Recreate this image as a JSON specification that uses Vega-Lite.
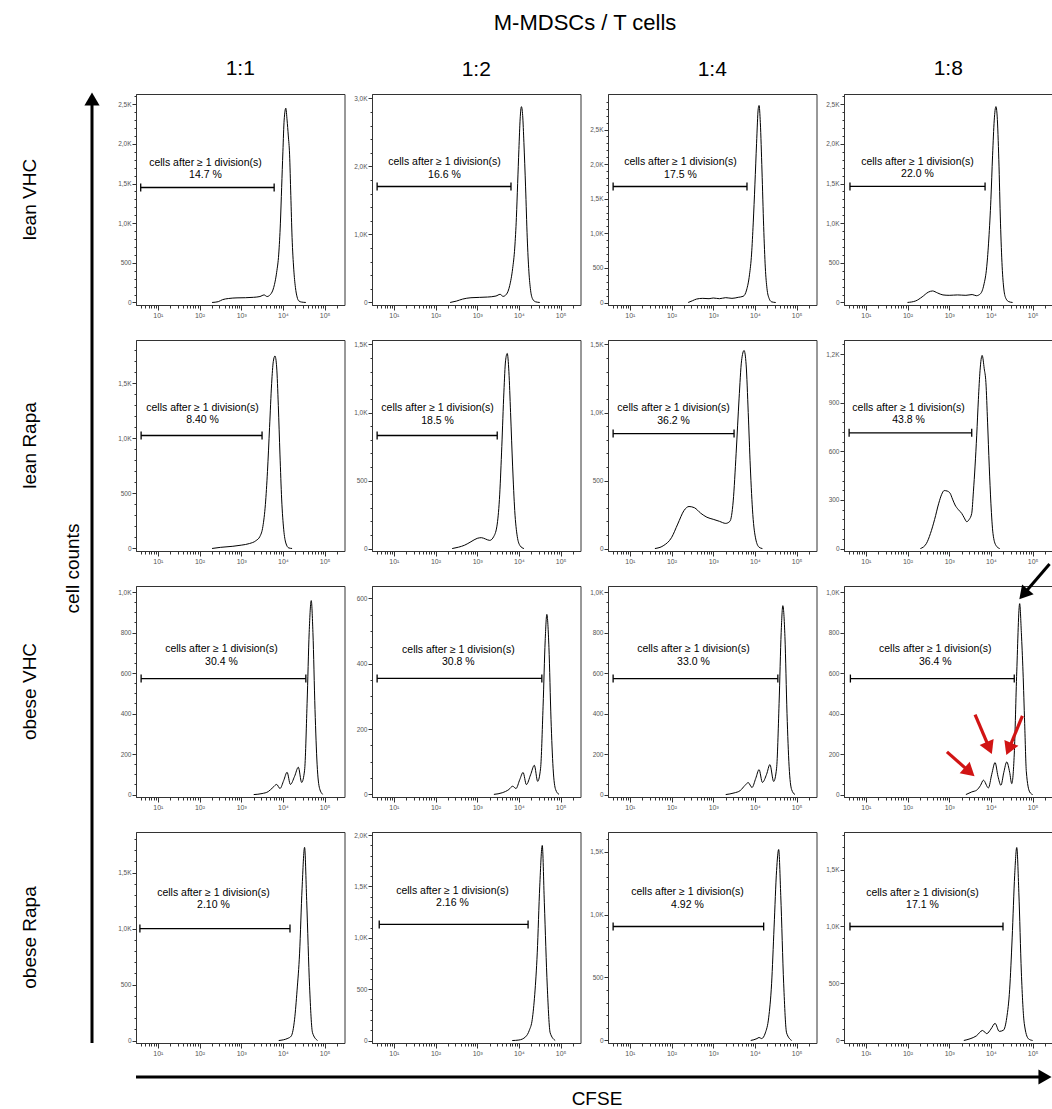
{
"$schema": "https://vega.github.io/schema/vega-lite/v6.json",
"padding": {"left": 20, "top": 11, "right": 0, "bottom": 0},
"background": "white",
"config": {
  "font": "Liberation Sans",
  "view": {"stroke": "#333", "strokeWidth": 1},
  "axis": {"grid": false, "labelFontSize": 6.5, "labelColor": "#555", "labelFont": "Liberation Sans", "tickColor": "#333", "domainColor": "#333", "domainWidth": 1, "tickWidth": 1, "labelOverlap": false, "labelFlush": false, "labelPadding": 1, "tickCount": 1000},
  "axisX": {"labelFontSize": 7},
  "title": {"fontWeight": "normal", "color": "#000", "font": "Liberation Sans"},
  "text": {"font": "Liberation Sans", "color": "#000"}
},
"datasets": {
  "rowlabels": [{"group": "lean VHC", "row": 0}, {"group": "lean Rapa", "row": 1}, {"group": "obese VHC", "row": 2}, {"group": "obese Rapa", "row": 3}],
  "arrows": [
    {"arrow": "black", "x": 255000, "y": 1139, "x2": 60800, "y2": 989},
    {"arrow": "red1", "x": 883, "y": 211, "x2": 3083, "y2": 112},
    {"arrow": "red2", "x": 4169, "y": 395, "x2": 9120, "y2": 230},
    {"arrow": "red3", "x": 57000, "y": 389, "x2": 26915, "y2": 225}
  ],
  "gates": [
    {"panel": "P11", "x1": 3.89, "x2": 6166, "y": 1450, "xm": 139, "ty": 1564, "pct": "14.7 %"},
    {"panel": "P12", "x1": 3.98, "x2": 6457, "y": 1706, "xm": 164, "ty": 1838, "pct": "16.6 %"},
    {"panel": "P13", "x1": 3.98, "x2": 6457, "y": 1676, "xm": 164, "ty": 1806, "pct": "17.5 %"},
    {"panel": "P14", "x1": 4.17, "x2": 7244, "y": 1463, "xm": 173, "ty": 1576, "pct": "22.0 %"},
    {"panel": "P21", "x1": 3.98, "x2": 3162, "y": 1027, "xm": 118, "ty": 1136, "pct": "8.40 %"},
    {"panel": "P22", "x1": 3.98, "x2": 3020, "y": 831, "xm": 112, "ty": 919, "pct": "18.5 %"},
    {"panel": "P23", "x1": 3.98, "x2": 3162, "y": 845, "xm": 112, "ty": 919, "pct": "36.2 %"},
    {"panel": "P24", "x1": 3.98, "x2": 3467, "y": 714, "xm": 106, "ty": 772, "pct": "43.8 %"},
    {"panel": "P31", "x1": 3.98, "x2": 35481, "y": 573, "xm": 335, "ty": 640, "pct": "30.4 %"},
    {"panel": "P32", "x1": 3.98, "x2": 35481, "y": 355, "xm": 353, "ty": 395, "pct": "30.8 %"},
    {"panel": "P33", "x1": 3.98, "x2": 35481, "y": 573, "xm": 335, "ty": 640, "pct": "33.0 %"},
    {"panel": "P34", "x1": 4.27, "x2": 36308, "y": 573, "xm": 464, "ty": 640, "pct": "36.4 %"},
    {"panel": "P41", "x1": 3.72, "x2": 14791, "y": 1000, "xm": 216, "ty": 1183, "pct": "2.10 %"},
    {"panel": "P42", "x1": 4.47, "x2": 16596, "y": 1130, "xm": 255, "ty": 1307, "pct": "2.16 %"},
    {"panel": "P43", "x1": 3.98, "x2": 16218, "y": 905, "xm": 241, "ty": 1052, "pct": "4.92 %"},
    {"panel": "P44", "x1": 4.17, "x2": 19498, "y": 1000, "xm": 228, "ty": 1162, "pct": "17.1 %"}
  ],
  "curves": [
    {"panel":"P11","cfse":200,"count":0},{"panel":"P11","cfse":282,"count":10},{"panel":"P11","cfse":355,"count":35},{"panel":"P11","cfse":501,"count":50},{"panel":"P11","cfse":794,"count":58},{"panel":"P11","cfse":1259,"count":60},{"panel":"P11","cfse":1995,"count":65},{"panel":"P11","cfse":2818,"count":75},{"panel":"P11","cfse":3548,"count":95},{"panel":"P11","cfse":4169,"count":75},{"panel":"P11","cfse":5012,"count":100},{"panel":"P11","cfse":6026,"count":190},{"panel":"P11","cfse":7079,"count":380},{"panel":"P11","cfse":7943,"count":610},{"panel":"P11","cfse":8710,"count":1000},{"panel":"P11","cfse":9333,"count":1450},{"panel":"P11","cfse":10000,"count":1900},{"panel":"P11","cfse":10715,"count":2300},{"panel":"P11","cfse":11749,"count":2450},{"panel":"P11","cfse":12589,"count":2300},{"panel":"P11","cfse":13490,"count":2100},{"panel":"P11","cfse":14454,"count":1870},{"panel":"P11","cfse":15488,"count":1350},{"panel":"P11","cfse":16596,"count":820},{"panel":"P11","cfse":18197,"count":420},{"panel":"P11","cfse":19953,"count":190},{"panel":"P11","cfse":21878,"count":70},{"panel":"P11","cfse":23988,"count":20},{"panel":"P11","cfse":28184,"count":5},{"panel":"P11","cfse":35481,"count":0},
    {"panel":"P12","cfse":224,"count":0},{"panel":"P12","cfse":316,"count":20},{"panel":"P12","cfse":447,"count":50},{"panel":"P12","cfse":708,"count":70},{"panel":"P12","cfse":1122,"count":75},{"panel":"P12","cfse":1778,"count":80},{"panel":"P12","cfse":2818,"count":95},{"panel":"P12","cfse":3548,"count":120},{"panel":"P12","cfse":4169,"count":90},{"panel":"P12","cfse":5012,"count":120},{"panel":"P12","cfse":6026,"count":250},{"panel":"P12","cfse":7079,"count":500},{"panel":"P12","cfse":7943,"count":800},{"panel":"P12","cfse":8710,"count":1250},{"panel":"P12","cfse":9333,"count":1750},{"panel":"P12","cfse":10000,"count":2250},{"panel":"P12","cfse":10715,"count":2700},{"panel":"P12","cfse":11482,"count":2880},{"panel":"P12","cfse":12303,"count":2750},{"panel":"P12","cfse":13183,"count":2350},{"panel":"P12","cfse":14454,"count":1700},{"panel":"P12","cfse":15849,"count":950},{"panel":"P12","cfse":17378,"count":450},{"panel":"P12","cfse":19055,"count":180},{"panel":"P12","cfse":21380,"count":50},{"panel":"P12","cfse":25119,"count":10},{"panel":"P12","cfse":31623,"count":0},
    {"panel":"P13","cfse":251,"count":0},{"panel":"P13","cfse":316,"count":25},{"panel":"P13","cfse":398,"count":50},{"panel":"P13","cfse":562,"count":60},{"panel":"P13","cfse":794,"count":55},{"panel":"P13","cfse":1000,"count":65},{"panel":"P13","cfse":1413,"count":55},{"panel":"P13","cfse":1995,"count":70},{"panel":"P13","cfse":2818,"count":60},{"panel":"P13","cfse":3981,"count":75},{"panel":"P13","cfse":5248,"count":90},{"panel":"P13","cfse":6310,"count":180},{"panel":"P13","cfse":7413,"count":400},{"panel":"P13","cfse":8318,"count":700},{"panel":"P13","cfse":9120,"count":1150},{"panel":"P13","cfse":10000,"count":1700},{"panel":"P13","cfse":10965,"count":2300},{"panel":"P13","cfse":12023,"count":2800},{"panel":"P13","cfse":12589,"count":2847},{"panel":"P13","cfse":13490,"count":2600},{"panel":"P13","cfse":14791,"count":1900},{"panel":"P13","cfse":16218,"count":1100},{"panel":"P13","cfse":17783,"count":500},{"panel":"P13","cfse":19498,"count":200},{"panel":"P13","cfse":21878,"count":60},{"panel":"P13","cfse":25119,"count":10},{"panel":"P13","cfse":31623,"count":0},
    {"panel":"P14","cfse":100,"count":0},{"panel":"P14","cfse":158,"count":20},{"panel":"P14","cfse":224,"count":70},{"panel":"P14","cfse":316,"count":130},{"panel":"P14","cfse":398,"count":145},{"panel":"P14","cfse":525,"count":120},{"panel":"P14","cfse":708,"count":95},{"panel":"P14","cfse":1000,"count":90},{"panel":"P14","cfse":1585,"count":95},{"panel":"P14","cfse":2512,"count":90},{"panel":"P14","cfse":3548,"count":100},{"panel":"P14","cfse":4467,"count":85},{"panel":"P14","cfse":5623,"count":110},{"panel":"P14","cfse":6761,"count":220},{"panel":"P14","cfse":7943,"count":450},{"panel":"P14","cfse":8913,"count":800},{"panel":"P14","cfse":10000,"count":1300},{"panel":"P14","cfse":10965,"count":1850},{"panel":"P14","cfse":12023,"count":2300},{"panel":"P14","cfse":13183,"count":2470},{"panel":"P14","cfse":14125,"count":2350},{"panel":"P14","cfse":15488,"count":1800},{"panel":"P14","cfse":16982,"count":1000},{"panel":"P14","cfse":18621,"count":450},{"panel":"P14","cfse":20417,"count":170},{"panel":"P14","cfse":22909,"count":50},{"panel":"P14","cfse":26915,"count":10},{"panel":"P14","cfse":33113,"count":0},
    {"panel":"P21","cfse":200,"count":0},{"panel":"P21","cfse":316,"count":10},{"panel":"P21","cfse":631,"count":20},{"panel":"P21","cfse":1000,"count":30},{"panel":"P21","cfse":1585,"count":45},{"panel":"P21","cfse":2239,"count":70},{"panel":"P21","cfse":2818,"count":110},{"panel":"P21","cfse":3311,"count":200},{"panel":"P21","cfse":3802,"count":400},{"panel":"P21","cfse":4266,"count":700},{"panel":"P21","cfse":4786,"count":1100},{"panel":"P21","cfse":5370,"count":1500},{"panel":"P21","cfse":5888,"count":1700},{"panel":"P21","cfse":6457,"count":1750},{"panel":"P21","cfse":7079,"count":1650},{"panel":"P21","cfse":7762,"count":1300},{"panel":"P21","cfse":8511,"count":850},{"panel":"P21","cfse":9333,"count":450},{"panel":"P21","cfse":10471,"count":170},{"panel":"P21","cfse":11749,"count":50},{"panel":"P21","cfse":13804,"count":5},{"panel":"P21","cfse":16596,"count":0},
    {"panel":"P22","cfse":251,"count":0},{"panel":"P22","cfse":355,"count":10},{"panel":"P22","cfse":501,"count":25},{"panel":"P22","cfse":708,"count":50},{"panel":"P22","cfse":1000,"count":75},{"panel":"P22","cfse":1259,"count":80},{"panel":"P22","cfse":1585,"count":70},{"panel":"P22","cfse":1995,"count":60},{"panel":"P22","cfse":2512,"count":90},{"panel":"P22","cfse":3020,"count":180},{"panel":"P22","cfse":3467,"count":400},{"panel":"P22","cfse":3890,"count":750},{"panel":"P22","cfse":4365,"count":1150},{"panel":"P22","cfse":4786,"count":1380},{"panel":"P22","cfse":5248,"count":1434},{"panel":"P22","cfse":5754,"count":1300},{"panel":"P22","cfse":6310,"count":1000},{"panel":"P22","cfse":7079,"count":600},{"panel":"P22","cfse":7943,"count":280},{"panel":"P22","cfse":9120,"count":90},{"panel":"P22","cfse":10715,"count":20},{"panel":"P22","cfse":13183,"count":0},
    {"panel":"P23","cfse":40,"count":0},{"panel":"P23","cfse":63,"count":20},{"panel":"P23","cfse":100,"count":80},{"panel":"P23","cfse":141,"count":180},{"panel":"P23","cfse":200,"count":280},{"panel":"P23","cfse":263,"count":309},{"panel":"P23","cfse":355,"count":300},{"panel":"P23","cfse":501,"count":260},{"panel":"P23","cfse":708,"count":230},{"panel":"P23","cfse":1000,"count":215},{"panel":"P23","cfse":1413,"count":200},{"panel":"P23","cfse":1995,"count":185},{"panel":"P23","cfse":2512,"count":200},{"panel":"P23","cfse":3020,"count":350},{"panel":"P23","cfse":3548,"count":700},{"panel":"P23","cfse":4169,"count":1100},{"panel":"P23","cfse":4786,"count":1380},{"panel":"P23","cfse":5495,"count":1456},{"panel":"P23","cfse":6166,"count":1350},{"panel":"P23","cfse":6918,"count":1000},{"panel":"P23","cfse":7762,"count":600},{"panel":"P23","cfse":8913,"count":250},{"panel":"P23","cfse":10471,"count":70},{"panel":"P23","cfse":12589,"count":10},{"panel":"P23","cfse":15136,"count":0},
    {"panel":"P24","cfse":204,"count":0},{"panel":"P24","cfse":282,"count":30},{"panel":"P24","cfse":355,"count":93},{"panel":"P24","cfse":447,"count":180},{"panel":"P24","cfse":562,"count":280},{"panel":"P24","cfse":661,"count":335},{"panel":"P24","cfse":759,"count":358},{"panel":"P24","cfse":891,"count":355},{"panel":"P24","cfse":1047,"count":342},{"panel":"P24","cfse":1202,"count":305},{"panel":"P24","cfse":1380,"count":269},{"panel":"P24","cfse":1660,"count":240},{"panel":"P24","cfse":1995,"count":217},{"panel":"P24","cfse":2291,"count":190},{"panel":"P24","cfse":2630,"count":166},{"panel":"P24","cfse":3020,"count":180},{"panel":"P24","cfse":3467,"count":217},{"panel":"P24","cfse":3802,"count":350},{"panel":"P24","cfse":4169,"count":509},{"panel":"P24","cfse":4571,"count":700},{"panel":"P24","cfse":5012,"count":921},{"panel":"P24","cfse":5495,"count":1100},{"panel":"P24","cfse":6166,"count":1192},{"panel":"P24","cfse":6918,"count":1110},{"panel":"P24","cfse":7586,"count":1025},{"panel":"P24","cfse":8318,"count":780},{"panel":"P24","cfse":9120,"count":509},{"panel":"P24","cfse":10000,"count":280},{"panel":"P24","cfse":11220,"count":93},{"panel":"P24","cfse":13183,"count":20},{"panel":"P24","cfse":16218,"count":0},
    {"panel":"P31","cfse":1995,"count":0},{"panel":"P31","cfse":3162,"count":5},{"panel":"P31","cfse":4467,"count":15},{"panel":"P31","cfse":5754,"count":35},{"panel":"P31","cfse":7079,"count":50},{"panel":"P31","cfse":8511,"count":30},{"panel":"P31","cfse":10471,"count":70},{"panel":"P31","cfse":12589,"count":110},{"panel":"P31","cfse":15136,"count":50},{"panel":"P31","cfse":19055,"count":90},{"panel":"P31","cfse":23442,"count":135},{"panel":"P31","cfse":28184,"count":60},{"panel":"P31","cfse":33113,"count":120},{"panel":"P31","cfse":38019,"count":450},{"panel":"P31","cfse":42658,"count":800},{"panel":"P31","cfse":47863,"count":958},{"panel":"P31","cfse":52481,"count":800},{"panel":"P31","cfse":58884,"count":420},{"panel":"P31","cfse":66069,"count":150},{"panel":"P31","cfse":75858,"count":30},{"panel":"P31","cfse":91201,"count":0},
    {"panel":"P32","cfse":2512,"count":0},{"panel":"P32","cfse":3981,"count":5},{"panel":"P32","cfse":5754,"count":15},{"panel":"P32","cfse":7079,"count":25},{"panel":"P32","cfse":8511,"count":18},{"panel":"P32","cfse":10471,"count":45},{"panel":"P32","cfse":12589,"count":67},{"panel":"P32","cfse":15136,"count":30},{"panel":"P32","cfse":19055,"count":60},{"panel":"P32","cfse":23442,"count":89},{"panel":"P32","cfse":28184,"count":40},{"panel":"P32","cfse":33113,"count":80},{"panel":"P32","cfse":38019,"count":270},{"panel":"P32","cfse":42658,"count":470},{"panel":"P32","cfse":46774,"count":551},{"panel":"P32","cfse":52481,"count":450},{"panel":"P32","cfse":58884,"count":230},{"panel":"P32","cfse":66069,"count":80},{"panel":"P32","cfse":75858,"count":15},{"panel":"P32","cfse":91201,"count":0},
    {"panel":"P33","cfse":1995,"count":0},{"panel":"P33","cfse":3162,"count":8},{"panel":"P33","cfse":4467,"count":20},{"panel":"P33","cfse":5754,"count":45},{"panel":"P33","cfse":6918,"count":59},{"panel":"P33","cfse":8511,"count":35},{"panel":"P33","cfse":10471,"count":80},{"panel":"P33","cfse":12589,"count":123},{"panel":"P33","cfse":15136,"count":60},{"panel":"P33","cfse":19055,"count":100},{"panel":"P33","cfse":22909,"count":148},{"panel":"P33","cfse":28184,"count":65},{"panel":"P33","cfse":33113,"count":130},{"panel":"P33","cfse":38019,"count":450},{"panel":"P33","cfse":42658,"count":800},{"panel":"P33","cfse":46774,"count":933},{"panel":"P33","cfse":52481,"count":780},{"panel":"P33","cfse":58884,"count":400},{"panel":"P33","cfse":66069,"count":140},{"panel":"P33","cfse":75858,"count":25},{"panel":"P33","cfse":91201,"count":0},
    {"panel":"P34","cfse":2512,"count":0},{"panel":"P34","cfse":3467,"count":13},{"panel":"P34","cfse":4571,"count":22},{"panel":"P34","cfse":5623,"count":45},{"panel":"P34","cfse":6607,"count":71},{"panel":"P34","cfse":8710,"count":33},{"panel":"P34","cfse":10471,"count":100},{"panel":"P34","cfse":12589,"count":158},{"panel":"P34","cfse":14791,"count":90},{"panel":"P34","cfse":17378,"count":46},{"panel":"P34","cfse":20417,"count":110},{"panel":"P34","cfse":23988,"count":161},{"panel":"P34","cfse":28184,"count":110},{"panel":"P34","cfse":31623,"count":54},{"panel":"P34","cfse":36308,"count":200},{"panel":"P34","cfse":41687,"count":606},{"panel":"P34","cfse":48978,"count":943},{"panel":"P34","cfse":53703,"count":800},{"panel":"P34","cfse":58884,"count":606},{"panel":"P34","cfse":64565,"count":350},{"panel":"P34","cfse":70795,"count":112},{"panel":"P34","cfse":85114,"count":13},{"panel":"P34","cfse":100000,"count":0},
    {"panel":"P41","cfse":7943,"count":0},{"panel":"P41","cfse":13183,"count":20},{"panel":"P41","cfse":15849,"count":40},{"panel":"P41","cfse":19055,"count":190},{"panel":"P41","cfse":21878,"count":450},{"panel":"P41","cfse":25119,"count":780},{"panel":"P41","cfse":28840,"count":1360},{"panel":"P41","cfse":33113,"count":1725},{"panel":"P41","cfse":37154,"count":1250},{"panel":"P41","cfse":43652,"count":480},{"panel":"P41","cfse":51286,"count":70},{"panel":"P41","cfse":67608,"count":0},
    {"panel":"P42","cfse":6918,"count":0},{"panel":"P42","cfse":10000,"count":5},{"panel":"P42","cfse":14454,"count":36},{"panel":"P42","cfse":17783,"count":100},{"panel":"P42","cfse":20893,"count":205},{"panel":"P42","cfse":23988,"count":450},{"panel":"P42","cfse":27542,"count":854},{"panel":"P42","cfse":31623,"count":1503},{"panel":"P42","cfse":36308,"count":1899},{"panel":"P42","cfse":40738,"count":1341},{"panel":"P42","cfse":47863,"count":530},{"panel":"P42","cfse":56234,"count":75},{"panel":"P42","cfse":74131,"count":0},
    {"panel":"P43","cfse":7943,"count":0},{"panel":"P43","cfse":11220,"count":15},{"panel":"P43","cfse":12589,"count":24},{"panel":"P43","cfse":14454,"count":15},{"panel":"P43","cfse":17783,"count":60},{"panel":"P43","cfse":21380,"count":180},{"panel":"P43","cfse":25119,"count":450},{"panel":"P43","cfse":28840,"count":900},{"panel":"P43","cfse":33113,"count":1350},{"panel":"P43","cfse":37154,"count":1516},{"panel":"P43","cfse":41687,"count":1150},{"panel":"P43","cfse":48978,"count":450},{"panel":"P43","cfse":57544,"count":60},{"panel":"P43","cfse":75858,"count":0},
    {"panel":"P44","cfse":2239,"count":0},{"panel":"P44","cfse":3162,"count":15},{"panel":"P44","cfse":4467,"count":40},{"panel":"P44","cfse":6310,"count":88},{"panel":"P44","cfse":7943,"count":60},{"panel":"P44","cfse":10000,"count":100},{"panel":"P44","cfse":12589,"count":150},{"panel":"P44","cfse":15849,"count":80},{"panel":"P44","cfse":19953,"count":90},{"panel":"P44","cfse":23988,"count":200},{"panel":"P44","cfse":28184,"count":450},{"panel":"P44","cfse":32359,"count":900},{"panel":"P44","cfse":37154,"count":1450},{"panel":"P44","cfse":41687,"count":1693},{"panel":"P44","cfse":46774,"count":1300},{"panel":"P44","cfse":53703,"count":600},{"panel":"P44","cfse":63096,"count":150},{"panel":"P44","cfse":79433,"count":15},{"panel":"P44","cfse":100000,"count":0}
  ]
},
"spacing": 0,
"vconcat": [
{
  "spacing": 17,
  "hconcat": [
    {
      "width": 80, "height": 949,
      "view": {"stroke": null},
      "layer": [
        {"data": {"name": "rowlabels"}, "mark": {"type": "text", "angle": 270, "fontSize": 19, "align": "center", "baseline": "middle"},
         "encoding": {"x": {"datum": 0.125, "type": "quantitative", "scale": {"domain": [0, 1], "nice": false, "zero": false}, "axis": null},
                      "y": {"field": "row", "type": "quantitative", "scale": {"domain": [-0.4289, 3.4289], "reverse": true, "nice": false, "zero": false}, "axis": null},
                      "text": {"field": "group"}}},
        {"data": {"values": [{"label": "cell counts"}]}, "mark": {"type": "text", "angle": 270, "fontSize": 19, "align": "center", "baseline": "middle"},
         "encoding": {"x": {"datum": 0.6625, "type": "quantitative"}, "y": {"datum": 1.5, "type": "quantitative"}, "text": {"field": "label"}}},
        {"data": {"values": [{"label": "cell counts"}]}, "mark": {"type": "rule", "strokeWidth": 3, "color": "#000"},
         "encoding": {"x": {"datum": 0.9, "type": "quantitative"}, "y": {"datum": 3.4289, "type": "quantitative"}, "y2": {"datum": -0.4085}}},
        {"data": {"values": [{"label": "cell counts"}]}, "mark": {"type": "point", "shape": "triangle-up", "filled": true, "size": 230, "color": "#000", "opacity": 1},
         "encoding": {"x": {"datum": 0.9, "type": "quantitative"}, "y": {"datum": -0.4085, "type": "quantitative"}}}
      ]
    },
    {
      "title": {"text": "M-MDSCs / T cells", "fontSize": 22, "offset": 23, "anchor": "middle"},
      "columns": 4,
      "spacing": {"row": 35, "column": 27},
      "bounds": "flush",
      "concat": [
        {"width": 208.5, "height": 211, "title": {"text": "1:1", "fontSize": 21, "offset": 14},
         "layer": [
          {"data": {"name": "curves"}, "transform": [{"filter": "datum.panel === 'P11'"}], "mark": {"type": "line", "color": "#000", "strokeWidth": 1, "interpolate": "monotone"},
           "encoding": {"x": {"field": "cfse", "type": "quantitative", "scale": {"type": "log", "domain": [3, 300000], "nice": false}, "axis": {"title": null, "tickCount": 1000, "values": [4,5,6,7,8,9,10,20,30,40,50,60,70,80,90,100,200,300,400,500,600,700,800,900,1000,2000,3000,4000,5000,6000,7000,8000,9000,10000,20000,30000,40000,50000,60000,70000,80000,90000,100000,200000], "labelExpr": "indexof([10,100,1000,10000,100000], datum.value) >= 0 ? '10' + ['','¹','²','³','⁴','⁵'][round(log(datum.value) / LN10)] : ''", "tickSize": {"condition": {"test": "indexof([10,100,1000,10000,100000], datum.value) >= 0", "value": 5}, "value": 3}}},
                        "y": {"field": "count", "type": "quantitative", "scale": {"domain": [-32, 2629], "nice": false, "zero": false}, "axis": {"title": null, "tickCount": 1000, "values": [0,100,200,300,400,500,600,700,800,900,1000,1100,1200,1300,1400,1500,1600,1700,1800,1900,2000,2100,2200,2300,2400,2500,2600], "labelExpr": "datum.value % 500 === 0 ? (datum.value >= 1000 ? replace(format(datum.value / 1000, '.1f'), '.', ',') + 'K' : format(datum.value, 'd')) : ''", "tickSize": {"condition": {"test": "datum.value % 500 === 0", "value": 4}, "value": 2}}}}},
          {"data": {"name": "gates"}, "transform": [{"filter": "datum.panel === 'P11'"}], "mark": {"type": "rule", "color": "#000", "strokeWidth": 1.3}, "encoding": {"x": {"field": "x1", "type": "quantitative"}, "x2": {"field": "x2"}, "y": {"field": "y", "type": "quantitative"}}},
          {"data": {"name": "gates"}, "transform": [{"filter": "datum.panel === 'P11'"}], "mark": {"type": "tick", "orient": "vertical", "size": 8, "thickness": 1.3, "color": "#000", "opacity": 1}, "encoding": {"x": {"field": "x1", "type": "quantitative"}, "y": {"field": "y", "type": "quantitative"}}},
          {"data": {"name": "gates"}, "transform": [{"filter": "datum.panel === 'P11'"}], "mark": {"type": "tick", "orient": "vertical", "size": 8, "thickness": 1.3, "color": "#000", "opacity": 1}, "encoding": {"x": {"field": "x2", "type": "quantitative"}, "y": {"field": "y", "type": "quantitative"}}},
          {"data": {"name": "gates"}, "transform": [{"filter": "datum.panel === 'P11'"}], "mark": {"type": "text", "fontSize": 10.5, "baseline": "alphabetic", "align": "center"}, "encoding": {"x": {"field": "xm", "type": "quantitative"}, "y": {"field": "ty", "type": "quantitative"}, "text": {"field": "pct"}}},
          {"data": {"name": "gates"}, "transform": [{"filter": "datum.panel === 'P11'"}], "mark": {"type": "text", "fontSize": 10.5, "baseline": "alphabetic", "align": "center", "dy": -12.5, "text": "cells after ≥ 1 division(s)"}, "encoding": {"x": {"field": "xm", "type": "quantitative"}, "y": {"field": "ty", "type": "quantitative"}}}
         ]},
        {"width": 208.5, "height": 211, "title": {"text": "1:2", "fontSize": 21, "offset": 14},
         "layer": [
          {"data": {"name": "curves"}, "transform": [{"filter": "datum.panel === 'P12'"}], "mark": {"type": "line", "color": "#000", "strokeWidth": 1, "interpolate": "monotone"},
           "encoding": {"x": {"field": "cfse", "type": "quantitative", "scale": {"type": "log", "domain": [3, 300000], "nice": false}, "axis": {"title": null, "tickCount": 1000, "values": [4,5,6,7,8,9,10,20,30,40,50,60,70,80,90,100,200,300,400,500,600,700,800,900,1000,2000,3000,4000,5000,6000,7000,8000,9000,10000,20000,30000,40000,50000,60000,70000,80000,90000,100000,200000], "labelExpr": "indexof([10,100,1000,10000,100000], datum.value) >= 0 ? '10' + ['','¹','²','³','⁴','⁵'][round(log(datum.value) / LN10)] : ''", "tickSize": {"condition": {"test": "indexof([10,100,1000,10000,100000], datum.value) >= 0", "value": 5}, "value": 3}}},
                        "y": {"field": "count", "type": "quantitative", "scale": {"domain": [-37, 3066], "nice": false, "zero": false}, "axis": {"title": null, "tickCount": 1000, "values": [0,200,400,600,800,1000,1200,1400,1600,1800,2000,2200,2400,2600,2800,3000], "labelExpr": "datum.value % 1000 === 0 ? (datum.value >= 1000 ? replace(format(datum.value / 1000, '.1f'), '.', ',') + 'K' : format(datum.value, 'd')) : ''", "tickSize": {"condition": {"test": "datum.value % 1000 === 0", "value": 4}, "value": 2}}}}},
          {"data": {"name": "gates"}, "transform": [{"filter": "datum.panel === 'P12'"}], "mark": {"type": "rule", "color": "#000", "strokeWidth": 1.3}, "encoding": {"x": {"field": "x1", "type": "quantitative"}, "x2": {"field": "x2"}, "y": {"field": "y", "type": "quantitative"}}},
          {"data": {"name": "gates"}, "transform": [{"filter": "datum.panel === 'P12'"}], "mark": {"type": "tick", "orient": "vertical", "size": 8, "thickness": 1.3, "color": "#000", "opacity": 1}, "encoding": {"x": {"field": "x1", "type": "quantitative"}, "y": {"field": "y", "type": "quantitative"}}},
          {"data": {"name": "gates"}, "transform": [{"filter": "datum.panel === 'P12'"}], "mark": {"type": "tick", "orient": "vertical", "size": 8, "thickness": 1.3, "color": "#000", "opacity": 1}, "encoding": {"x": {"field": "x2", "type": "quantitative"}, "y": {"field": "y", "type": "quantitative"}}},
          {"data": {"name": "gates"}, "transform": [{"filter": "datum.panel === 'P12'"}], "mark": {"type": "text", "fontSize": 10.5, "baseline": "alphabetic", "align": "center"}, "encoding": {"x": {"field": "xm", "type": "quantitative"}, "y": {"field": "ty", "type": "quantitative"}, "text": {"field": "pct"}}},
          {"data": {"name": "gates"}, "transform": [{"filter": "datum.panel === 'P12'"}], "mark": {"type": "text", "fontSize": 10.5, "baseline": "alphabetic", "align": "center", "dy": -12.5, "text": "cells after ≥ 1 division(s)"}, "encoding": {"x": {"field": "xm", "type": "quantitative"}, "y": {"field": "ty", "type": "quantitative"}}}
         ]},
        {"width": 208.5, "height": 211, "title": {"text": "1:4", "fontSize": 21, "offset": 14},
         "layer": [
          {"data": {"name": "curves"}, "transform": [{"filter": "datum.panel === 'P13'"}], "mark": {"type": "line", "color": "#000", "strokeWidth": 1, "interpolate": "monotone"},
           "encoding": {"x": {"field": "cfse", "type": "quantitative", "scale": {"type": "log", "domain": [3, 300000], "nice": false}, "axis": {"title": null, "tickCount": 1000, "values": [4,5,6,7,8,9,10,20,30,40,50,60,70,80,90,100,200,300,400,500,600,700,800,900,1000,2000,3000,4000,5000,6000,7000,8000,9000,10000,20000,30000,40000,50000,60000,70000,80000,90000,100000,200000], "labelExpr": "indexof([10,100,1000,10000,100000], datum.value) >= 0 ? '10' + ['','¹','²','³','⁴','⁵'][round(log(datum.value) / LN10)] : ''", "tickSize": {"condition": {"test": "indexof([10,100,1000,10000,100000], datum.value) >= 0", "value": 5}, "value": 3}}},
                        "y": {"field": "count", "type": "quantitative", "scale": {"domain": [-36, 3013], "nice": false, "zero": false}, "axis": {"title": null, "tickCount": 1000, "values": [0,100,200,300,400,500,600,700,800,900,1000,1100,1200,1300,1400,1500,1600,1700,1800,1900,2000,2100,2200,2300,2400,2500,2600,2700,2800,2900], "labelExpr": "datum.value % 500 === 0 ? (datum.value >= 1000 ? replace(format(datum.value / 1000, '.1f'), '.', ',') + 'K' : format(datum.value, 'd')) : ''", "tickSize": {"condition": {"test": "datum.value % 500 === 0", "value": 4}, "value": 2}}}}},
          {"data": {"name": "gates"}, "transform": [{"filter": "datum.panel === 'P13'"}], "mark": {"type": "rule", "color": "#000", "strokeWidth": 1.3}, "encoding": {"x": {"field": "x1", "type": "quantitative"}, "x2": {"field": "x2"}, "y": {"field": "y", "type": "quantitative"}}},
          {"data": {"name": "gates"}, "transform": [{"filter": "datum.panel === 'P13'"}], "mark": {"type": "tick", "orient": "vertical", "size": 8, "thickness": 1.3, "color": "#000", "opacity": 1}, "encoding": {"x": {"field": "x1", "type": "quantitative"}, "y": {"field": "y", "type": "quantitative"}}},
          {"data": {"name": "gates"}, "transform": [{"filter": "datum.panel === 'P13'"}], "mark": {"type": "tick", "orient": "vertical", "size": 8, "thickness": 1.3, "color": "#000", "opacity": 1}, "encoding": {"x": {"field": "x2", "type": "quantitative"}, "y": {"field": "y", "type": "quantitative"}}},
          {"data": {"name": "gates"}, "transform": [{"filter": "datum.panel === 'P13'"}], "mark": {"type": "text", "fontSize": 10.5, "baseline": "alphabetic", "align": "center"}, "encoding": {"x": {"field": "xm", "type": "quantitative"}, "y": {"field": "ty", "type": "quantitative"}, "text": {"field": "pct"}}},
          {"data": {"name": "gates"}, "transform": [{"filter": "datum.panel === 'P13'"}], "mark": {"type": "text", "fontSize": 10.5, "baseline": "alphabetic", "align": "center", "dy": -12.5, "text": "cells after ≥ 1 division(s)"}, "encoding": {"x": {"field": "xm", "type": "quantitative"}, "y": {"field": "ty", "type": "quantitative"}}}
         ]},
        {"width": 208.5, "height": 211, "title": {"text": "1:8", "fontSize": 21, "offset": 14},
         "layer": [
          {"data": {"name": "curves"}, "transform": [{"filter": "datum.panel === 'P14'"}], "mark": {"type": "line", "color": "#000", "strokeWidth": 1, "interpolate": "monotone"},
           "encoding": {"x": {"field": "cfse", "type": "quantitative", "scale": {"type": "log", "domain": [3, 300000], "nice": false}, "axis": {"title": null, "tickCount": 1000, "values": [4,5,6,7,8,9,10,20,30,40,50,60,70,80,90,100,200,300,400,500,600,700,800,900,1000,2000,3000,4000,5000,6000,7000,8000,9000,10000,20000,30000,40000,50000,60000,70000,80000,90000,100000,200000], "labelExpr": "indexof([10,100,1000,10000,100000], datum.value) >= 0 ? '10' + ['','¹','²','³','⁴','⁵'][round(log(datum.value) / LN10)] : ''", "tickSize": {"condition": {"test": "indexof([10,100,1000,10000,100000], datum.value) >= 0", "value": 5}, "value": 3}}},
                        "y": {"field": "count", "type": "quantitative", "scale": {"domain": [-32, 2629], "nice": false, "zero": false}, "axis": {"title": null, "tickCount": 1000, "values": [0,100,200,300,400,500,600,700,800,900,1000,1100,1200,1300,1400,1500,1600,1700,1800,1900,2000,2100,2200,2300,2400,2500,2600], "labelExpr": "datum.value % 500 === 0 ? (datum.value >= 1000 ? replace(format(datum.value / 1000, '.1f'), '.', ',') + 'K' : format(datum.value, 'd')) : ''", "tickSize": {"condition": {"test": "datum.value % 500 === 0", "value": 4}, "value": 2}}}}},
          {"data": {"name": "gates"}, "transform": [{"filter": "datum.panel === 'P14'"}], "mark": {"type": "rule", "color": "#000", "strokeWidth": 1.3}, "encoding": {"x": {"field": "x1", "type": "quantitative"}, "x2": {"field": "x2"}, "y": {"field": "y", "type": "quantitative"}}},
          {"data": {"name": "gates"}, "transform": [{"filter": "datum.panel === 'P14'"}], "mark": {"type": "tick", "orient": "vertical", "size": 8, "thickness": 1.3, "color": "#000", "opacity": 1}, "encoding": {"x": {"field": "x1", "type": "quantitative"}, "y": {"field": "y", "type": "quantitative"}}},
          {"data": {"name": "gates"}, "transform": [{"filter": "datum.panel === 'P14'"}], "mark": {"type": "tick", "orient": "vertical", "size": 8, "thickness": 1.3, "color": "#000", "opacity": 1}, "encoding": {"x": {"field": "x2", "type": "quantitative"}, "y": {"field": "y", "type": "quantitative"}}},
          {"data": {"name": "gates"}, "transform": [{"filter": "datum.panel === 'P14'"}], "mark": {"type": "text", "fontSize": 10.5, "baseline": "alphabetic", "align": "center"}, "encoding": {"x": {"field": "xm", "type": "quantitative"}, "y": {"field": "ty", "type": "quantitative"}, "text": {"field": "pct"}}},
          {"data": {"name": "gates"}, "transform": [{"filter": "datum.panel === 'P14'"}], "mark": {"type": "text", "fontSize": 10.5, "baseline": "alphabetic", "align": "center", "dy": -12.5, "text": "cells after ≥ 1 division(s)"}, "encoding": {"x": {"field": "xm", "type": "quantitative"}, "y": {"field": "ty", "type": "quantitative"}}}
         ]},
        {"width": 208.5, "height": 211,
         "layer": [
          {"data": {"name": "curves"}, "transform": [{"filter": "datum.panel === 'P21'"}], "mark": {"type": "line", "color": "#000", "strokeWidth": 1, "interpolate": "monotone"},
           "encoding": {"x": {"field": "cfse", "type": "quantitative", "scale": {"type": "log", "domain": [3, 300000], "nice": false}, "axis": {"title": null, "tickCount": 1000, "values": [4,5,6,7,8,9,10,20,30,40,50,60,70,80,90,100,200,300,400,500,600,700,800,900,1000,2000,3000,4000,5000,6000,7000,8000,9000,10000,20000,30000,40000,50000,60000,70000,80000,90000,100000,200000], "labelExpr": "indexof([10,100,1000,10000,100000], datum.value) >= 0 ? '10' + ['','¹','²','³','⁴','⁵'][round(log(datum.value) / LN10)] : ''", "tickSize": {"condition": {"test": "indexof([10,100,1000,10000,100000], datum.value) >= 0", "value": 5}, "value": 3}}},
                        "y": {"field": "count", "type": "quantitative", "scale": {"domain": [-23, 1895], "nice": false, "zero": false}, "axis": {"title": null, "tickCount": 1000, "values": [0,100,200,300,400,500,600,700,800,900,1000,1100,1200,1300,1400,1500,1600,1700,1800], "labelExpr": "datum.value % 500 === 0 ? (datum.value >= 1000 ? replace(format(datum.value / 1000, '.1f'), '.', ',') + 'K' : format(datum.value, 'd')) : ''", "tickSize": {"condition": {"test": "datum.value % 500 === 0", "value": 4}, "value": 2}}}}},
          {"data": {"name": "gates"}, "transform": [{"filter": "datum.panel === 'P21'"}], "mark": {"type": "rule", "color": "#000", "strokeWidth": 1.3}, "encoding": {"x": {"field": "x1", "type": "quantitative"}, "x2": {"field": "x2"}, "y": {"field": "y", "type": "quantitative"}}},
          {"data": {"name": "gates"}, "transform": [{"filter": "datum.panel === 'P21'"}], "mark": {"type": "tick", "orient": "vertical", "size": 8, "thickness": 1.3, "color": "#000", "opacity": 1}, "encoding": {"x": {"field": "x1", "type": "quantitative"}, "y": {"field": "y", "type": "quantitative"}}},
          {"data": {"name": "gates"}, "transform": [{"filter": "datum.panel === 'P21'"}], "mark": {"type": "tick", "orient": "vertical", "size": 8, "thickness": 1.3, "color": "#000", "opacity": 1}, "encoding": {"x": {"field": "x2", "type": "quantitative"}, "y": {"field": "y", "type": "quantitative"}}},
          {"data": {"name": "gates"}, "transform": [{"filter": "datum.panel === 'P21'"}], "mark": {"type": "text", "fontSize": 10.5, "baseline": "alphabetic", "align": "center"}, "encoding": {"x": {"field": "xm", "type": "quantitative"}, "y": {"field": "ty", "type": "quantitative"}, "text": {"field": "pct"}}},
          {"data": {"name": "gates"}, "transform": [{"filter": "datum.panel === 'P21'"}], "mark": {"type": "text", "fontSize": 10.5, "baseline": "alphabetic", "align": "center", "dy": -12.5, "text": "cells after ≥ 1 division(s)"}, "encoding": {"x": {"field": "xm", "type": "quantitative"}, "y": {"field": "ty", "type": "quantitative"}}}
         ]},
        {"width": 208.5, "height": 211,
         "layer": [
          {"data": {"name": "curves"}, "transform": [{"filter": "datum.panel === 'P22'"}], "mark": {"type": "line", "color": "#000", "strokeWidth": 1, "interpolate": "monotone"},
           "encoding": {"x": {"field": "cfse", "type": "quantitative", "scale": {"type": "log", "domain": [3, 300000], "nice": false}, "axis": {"title": null, "tickCount": 1000, "values": [4,5,6,7,8,9,10,20,30,40,50,60,70,80,90,100,200,300,400,500,600,700,800,900,1000,2000,3000,4000,5000,6000,7000,8000,9000,10000,20000,30000,40000,50000,60000,70000,80000,90000,100000,200000], "labelExpr": "indexof([10,100,1000,10000,100000], datum.value) >= 0 ? '10' + ['','¹','²','³','⁴','⁵'][round(log(datum.value) / LN10)] : ''", "tickSize": {"condition": {"test": "indexof([10,100,1000,10000,100000], datum.value) >= 0", "value": 5}, "value": 3}}},
                        "y": {"field": "count", "type": "quantitative", "scale": {"domain": [-18, 1533], "nice": false, "zero": false}, "axis": {"title": null, "tickCount": 1000, "values": [0,100,200,300,400,500,600,700,800,900,1000,1100,1200,1300,1400,1500], "labelExpr": "datum.value % 500 === 0 ? (datum.value >= 1000 ? replace(format(datum.value / 1000, '.1f'), '.', ',') + 'K' : format(datum.value, 'd')) : ''", "tickSize": {"condition": {"test": "datum.value % 500 === 0", "value": 4}, "value": 2}}}}},
          {"data": {"name": "gates"}, "transform": [{"filter": "datum.panel === 'P22'"}], "mark": {"type": "rule", "color": "#000", "strokeWidth": 1.3}, "encoding": {"x": {"field": "x1", "type": "quantitative"}, "x2": {"field": "x2"}, "y": {"field": "y", "type": "quantitative"}}},
          {"data": {"name": "gates"}, "transform": [{"filter": "datum.panel === 'P22'"}], "mark": {"type": "tick", "orient": "vertical", "size": 8, "thickness": 1.3, "color": "#000", "opacity": 1}, "encoding": {"x": {"field": "x1", "type": "quantitative"}, "y": {"field": "y", "type": "quantitative"}}},
          {"data": {"name": "gates"}, "transform": [{"filter": "datum.panel === 'P22'"}], "mark": {"type": "tick", "orient": "vertical", "size": 8, "thickness": 1.3, "color": "#000", "opacity": 1}, "encoding": {"x": {"field": "x2", "type": "quantitative"}, "y": {"field": "y", "type": "quantitative"}}},
          {"data": {"name": "gates"}, "transform": [{"filter": "datum.panel === 'P22'"}], "mark": {"type": "text", "fontSize": 10.5, "baseline": "alphabetic", "align": "center"}, "encoding": {"x": {"field": "xm", "type": "quantitative"}, "y": {"field": "ty", "type": "quantitative"}, "text": {"field": "pct"}}},
          {"data": {"name": "gates"}, "transform": [{"filter": "datum.panel === 'P22'"}], "mark": {"type": "text", "fontSize": 10.5, "baseline": "alphabetic", "align": "center", "dy": -12.5, "text": "cells after ≥ 1 division(s)"}, "encoding": {"x": {"field": "xm", "type": "quantitative"}, "y": {"field": "ty", "type": "quantitative"}}}
         ]},
        {"width": 208.5, "height": 211,
         "layer": [
          {"data": {"name": "curves"}, "transform": [{"filter": "datum.panel === 'P23'"}], "mark": {"type": "line", "color": "#000", "strokeWidth": 1, "interpolate": "monotone"},
           "encoding": {"x": {"field": "cfse", "type": "quantitative", "scale": {"type": "log", "domain": [3, 300000], "nice": false}, "axis": {"title": null, "tickCount": 1000, "values": [4,5,6,7,8,9,10,20,30,40,50,60,70,80,90,100,200,300,400,500,600,700,800,900,1000,2000,3000,4000,5000,6000,7000,8000,9000,10000,20000,30000,40000,50000,60000,70000,80000,90000,100000,200000], "labelExpr": "indexof([10,100,1000,10000,100000], datum.value) >= 0 ? '10' + ['','¹','²','³','⁴','⁵'][round(log(datum.value) / LN10)] : ''", "tickSize": {"condition": {"test": "indexof([10,100,1000,10000,100000], datum.value) >= 0", "value": 5}, "value": 3}}},
                        "y": {"field": "count", "type": "quantitative", "scale": {"domain": [-18, 1533], "nice": false, "zero": false}, "axis": {"title": null, "tickCount": 1000, "values": [0,100,200,300,400,500,600,700,800,900,1000,1100,1200,1300,1400,1500], "labelExpr": "datum.value % 500 === 0 ? (datum.value >= 1000 ? replace(format(datum.value / 1000, '.1f'), '.', ',') + 'K' : format(datum.value, 'd')) : ''", "tickSize": {"condition": {"test": "datum.value % 500 === 0", "value": 4}, "value": 2}}}}},
          {"data": {"name": "gates"}, "transform": [{"filter": "datum.panel === 'P23'"}], "mark": {"type": "rule", "color": "#000", "strokeWidth": 1.3}, "encoding": {"x": {"field": "x1", "type": "quantitative"}, "x2": {"field": "x2"}, "y": {"field": "y", "type": "quantitative"}}},
          {"data": {"name": "gates"}, "transform": [{"filter": "datum.panel === 'P23'"}], "mark": {"type": "tick", "orient": "vertical", "size": 8, "thickness": 1.3, "color": "#000", "opacity": 1}, "encoding": {"x": {"field": "x1", "type": "quantitative"}, "y": {"field": "y", "type": "quantitative"}}},
          {"data": {"name": "gates"}, "transform": [{"filter": "datum.panel === 'P23'"}], "mark": {"type": "tick", "orient": "vertical", "size": 8, "thickness": 1.3, "color": "#000", "opacity": 1}, "encoding": {"x": {"field": "x2", "type": "quantitative"}, "y": {"field": "y", "type": "quantitative"}}},
          {"data": {"name": "gates"}, "transform": [{"filter": "datum.panel === 'P23'"}], "mark": {"type": "text", "fontSize": 10.5, "baseline": "alphabetic", "align": "center"}, "encoding": {"x": {"field": "xm", "type": "quantitative"}, "y": {"field": "ty", "type": "quantitative"}, "text": {"field": "pct"}}},
          {"data": {"name": "gates"}, "transform": [{"filter": "datum.panel === 'P23'"}], "mark": {"type": "text", "fontSize": 10.5, "baseline": "alphabetic", "align": "center", "dy": -12.5, "text": "cells after ≥ 1 division(s)"}, "encoding": {"x": {"field": "xm", "type": "quantitative"}, "y": {"field": "ty", "type": "quantitative"}}}
         ]},
        {"width": 208.5, "height": 211,
         "layer": [
          {"data": {"name": "curves"}, "transform": [{"filter": "datum.panel === 'P24'"}], "mark": {"type": "line", "color": "#000", "strokeWidth": 1, "interpolate": "monotone"},
           "encoding": {"x": {"field": "cfse", "type": "quantitative", "scale": {"type": "log", "domain": [3, 300000], "nice": false}, "axis": {"title": null, "tickCount": 1000, "values": [4,5,6,7,8,9,10,20,30,40,50,60,70,80,90,100,200,300,400,500,600,700,800,900,1000,2000,3000,4000,5000,6000,7000,8000,9000,10000,20000,30000,40000,50000,60000,70000,80000,90000,100000,200000], "labelExpr": "indexof([10,100,1000,10000,100000], datum.value) >= 0 ? '10' + ['','¹','²','³','⁴','⁵'][round(log(datum.value) / LN10)] : ''", "tickSize": {"condition": {"test": "indexof([10,100,1000,10000,100000], datum.value) >= 0", "value": 5}, "value": 3}}},
                        "y": {"field": "count", "type": "quantitative", "scale": {"domain": [-15, 1287], "nice": false, "zero": false}, "axis": {"title": null, "tickCount": 1000, "values": [0,60,120,180,240,300,360,420,480,540,600,660,720,780,840,900,960,1020,1080,1140,1200,1260], "labelExpr": "datum.value % 300 === 0 ? (datum.value >= 1000 ? replace(format(datum.value / 1000, '.1f'), '.', ',') + 'K' : format(datum.value, 'd')) : ''", "tickSize": {"condition": {"test": "datum.value % 300 === 0", "value": 4}, "value": 2}}}}},
          {"data": {"name": "gates"}, "transform": [{"filter": "datum.panel === 'P24'"}], "mark": {"type": "rule", "color": "#000", "strokeWidth": 1.3}, "encoding": {"x": {"field": "x1", "type": "quantitative"}, "x2": {"field": "x2"}, "y": {"field": "y", "type": "quantitative"}}},
          {"data": {"name": "gates"}, "transform": [{"filter": "datum.panel === 'P24'"}], "mark": {"type": "tick", "orient": "vertical", "size": 8, "thickness": 1.3, "color": "#000", "opacity": 1}, "encoding": {"x": {"field": "x1", "type": "quantitative"}, "y": {"field": "y", "type": "quantitative"}}},
          {"data": {"name": "gates"}, "transform": [{"filter": "datum.panel === 'P24'"}], "mark": {"type": "tick", "orient": "vertical", "size": 8, "thickness": 1.3, "color": "#000", "opacity": 1}, "encoding": {"x": {"field": "x2", "type": "quantitative"}, "y": {"field": "y", "type": "quantitative"}}},
          {"data": {"name": "gates"}, "transform": [{"filter": "datum.panel === 'P24'"}], "mark": {"type": "text", "fontSize": 10.5, "baseline": "alphabetic", "align": "center"}, "encoding": {"x": {"field": "xm", "type": "quantitative"}, "y": {"field": "ty", "type": "quantitative"}, "text": {"field": "pct"}}},
          {"data": {"name": "gates"}, "transform": [{"filter": "datum.panel === 'P24'"}], "mark": {"type": "text", "fontSize": 10.5, "baseline": "alphabetic", "align": "center", "dy": -12.5, "text": "cells after ≥ 1 division(s)"}, "encoding": {"x": {"field": "xm", "type": "quantitative"}, "y": {"field": "ty", "type": "quantitative"}}}
         ]},
        {"width": 208.5, "height": 211,
         "layer": [
          {"data": {"name": "curves"}, "transform": [{"filter": "datum.panel === 'P31'"}], "mark": {"type": "line", "color": "#000", "strokeWidth": 1, "interpolate": "monotone"},
           "encoding": {"x": {"field": "cfse", "type": "quantitative", "scale": {"type": "log", "domain": [3, 300000], "nice": false}, "axis": {"title": null, "tickCount": 1000, "values": [4,5,6,7,8,9,10,20,30,40,50,60,70,80,90,100,200,300,400,500,600,700,800,900,1000,2000,3000,4000,5000,6000,7000,8000,9000,10000,20000,30000,40000,50000,60000,70000,80000,90000,100000,200000], "labelExpr": "indexof([10,100,1000,10000,100000], datum.value) >= 0 ? '10' + ['','¹','²','³','⁴','⁵'][round(log(datum.value) / LN10)] : ''", "tickSize": {"condition": {"test": "indexof([10,100,1000,10000,100000], datum.value) >= 0", "value": 5}, "value": 3}}},
                        "y": {"field": "count", "type": "quantitative", "scale": {"domain": [-12, 1030], "nice": false, "zero": false}, "axis": {"title": null, "tickCount": 1000, "values": [0,50,100,150,200,250,300,350,400,450,500,550,600,650,700,750,800,850,900,950,1000], "labelExpr": "datum.value % 200 === 0 ? (datum.value >= 1000 ? replace(format(datum.value / 1000, '.1f'), '.', ',') + 'K' : format(datum.value, 'd')) : ''", "tickSize": {"condition": {"test": "datum.value % 200 === 0", "value": 4}, "value": 2}}}}},
          {"data": {"name": "gates"}, "transform": [{"filter": "datum.panel === 'P31'"}], "mark": {"type": "rule", "color": "#000", "strokeWidth": 1.3}, "encoding": {"x": {"field": "x1", "type": "quantitative"}, "x2": {"field": "x2"}, "y": {"field": "y", "type": "quantitative"}}},
          {"data": {"name": "gates"}, "transform": [{"filter": "datum.panel === 'P31'"}], "mark": {"type": "tick", "orient": "vertical", "size": 8, "thickness": 1.3, "color": "#000", "opacity": 1}, "encoding": {"x": {"field": "x1", "type": "quantitative"}, "y": {"field": "y", "type": "quantitative"}}},
          {"data": {"name": "gates"}, "transform": [{"filter": "datum.panel === 'P31'"}], "mark": {"type": "tick", "orient": "vertical", "size": 8, "thickness": 1.3, "color": "#000", "opacity": 1}, "encoding": {"x": {"field": "x2", "type": "quantitative"}, "y": {"field": "y", "type": "quantitative"}}},
          {"data": {"name": "gates"}, "transform": [{"filter": "datum.panel === 'P31'"}], "mark": {"type": "text", "fontSize": 10.5, "baseline": "alphabetic", "align": "center"}, "encoding": {"x": {"field": "xm", "type": "quantitative"}, "y": {"field": "ty", "type": "quantitative"}, "text": {"field": "pct"}}},
          {"data": {"name": "gates"}, "transform": [{"filter": "datum.panel === 'P31'"}], "mark": {"type": "text", "fontSize": 10.5, "baseline": "alphabetic", "align": "center", "dy": -12.5, "text": "cells after ≥ 1 division(s)"}, "encoding": {"x": {"field": "xm", "type": "quantitative"}, "y": {"field": "ty", "type": "quantitative"}}}
         ]},
        {"width": 208.5, "height": 211,
         "layer": [
          {"data": {"name": "curves"}, "transform": [{"filter": "datum.panel === 'P32'"}], "mark": {"type": "line", "color": "#000", "strokeWidth": 1, "interpolate": "monotone"},
           "encoding": {"x": {"field": "cfse", "type": "quantitative", "scale": {"type": "log", "domain": [3, 300000], "nice": false}, "axis": {"title": null, "tickCount": 1000, "values": [4,5,6,7,8,9,10,20,30,40,50,60,70,80,90,100,200,300,400,500,600,700,800,900,1000,2000,3000,4000,5000,6000,7000,8000,9000,10000,20000,30000,40000,50000,60000,70000,80000,90000,100000,200000], "labelExpr": "indexof([10,100,1000,10000,100000], datum.value) >= 0 ? '10' + ['','¹','²','³','⁴','⁵'][round(log(datum.value) / LN10)] : ''", "tickSize": {"condition": {"test": "indexof([10,100,1000,10000,100000], datum.value) >= 0", "value": 5}, "value": 3}}},
                        "y": {"field": "count", "type": "quantitative", "scale": {"domain": [-8, 638], "nice": false, "zero": false}, "axis": {"title": null, "tickCount": 1000, "values": [0,50,100,150,200,250,300,350,400,450,500,550,600], "labelExpr": "datum.value % 200 === 0 ? (datum.value >= 1000 ? replace(format(datum.value / 1000, '.1f'), '.', ',') + 'K' : format(datum.value, 'd')) : ''", "tickSize": {"condition": {"test": "datum.value % 200 === 0", "value": 4}, "value": 2}}}}},
          {"data": {"name": "gates"}, "transform": [{"filter": "datum.panel === 'P32'"}], "mark": {"type": "rule", "color": "#000", "strokeWidth": 1.3}, "encoding": {"x": {"field": "x1", "type": "quantitative"}, "x2": {"field": "x2"}, "y": {"field": "y", "type": "quantitative"}}},
          {"data": {"name": "gates"}, "transform": [{"filter": "datum.panel === 'P32'"}], "mark": {"type": "tick", "orient": "vertical", "size": 8, "thickness": 1.3, "color": "#000", "opacity": 1}, "encoding": {"x": {"field": "x1", "type": "quantitative"}, "y": {"field": "y", "type": "quantitative"}}},
          {"data": {"name": "gates"}, "transform": [{"filter": "datum.panel === 'P32'"}], "mark": {"type": "tick", "orient": "vertical", "size": 8, "thickness": 1.3, "color": "#000", "opacity": 1}, "encoding": {"x": {"field": "x2", "type": "quantitative"}, "y": {"field": "y", "type": "quantitative"}}},
          {"data": {"name": "gates"}, "transform": [{"filter": "datum.panel === 'P32'"}], "mark": {"type": "text", "fontSize": 10.5, "baseline": "alphabetic", "align": "center"}, "encoding": {"x": {"field": "xm", "type": "quantitative"}, "y": {"field": "ty", "type": "quantitative"}, "text": {"field": "pct"}}},
          {"data": {"name": "gates"}, "transform": [{"filter": "datum.panel === 'P32'"}], "mark": {"type": "text", "fontSize": 10.5, "baseline": "alphabetic", "align": "center", "dy": -12.5, "text": "cells after ≥ 1 division(s)"}, "encoding": {"x": {"field": "xm", "type": "quantitative"}, "y": {"field": "ty", "type": "quantitative"}}}
         ]},
        {"width": 208.5, "height": 211,
         "layer": [
          {"data": {"name": "curves"}, "transform": [{"filter": "datum.panel === 'P33'"}], "mark": {"type": "line", "color": "#000", "strokeWidth": 1, "interpolate": "monotone"},
           "encoding": {"x": {"field": "cfse", "type": "quantitative", "scale": {"type": "log", "domain": [3, 300000], "nice": false}, "axis": {"title": null, "tickCount": 1000, "values": [4,5,6,7,8,9,10,20,30,40,50,60,70,80,90,100,200,300,400,500,600,700,800,900,1000,2000,3000,4000,5000,6000,7000,8000,9000,10000,20000,30000,40000,50000,60000,70000,80000,90000,100000,200000], "labelExpr": "indexof([10,100,1000,10000,100000], datum.value) >= 0 ? '10' + ['','¹','²','³','⁴','⁵'][round(log(datum.value) / LN10)] : ''", "tickSize": {"condition": {"test": "indexof([10,100,1000,10000,100000], datum.value) >= 0", "value": 5}, "value": 3}}},
                        "y": {"field": "count", "type": "quantitative", "scale": {"domain": [-12, 1030], "nice": false, "zero": false}, "axis": {"title": null, "tickCount": 1000, "values": [0,50,100,150,200,250,300,350,400,450,500,550,600,650,700,750,800,850,900,950,1000], "labelExpr": "datum.value % 200 === 0 ? (datum.value >= 1000 ? replace(format(datum.value / 1000, '.1f'), '.', ',') + 'K' : format(datum.value, 'd')) : ''", "tickSize": {"condition": {"test": "datum.value % 200 === 0", "value": 4}, "value": 2}}}}},
          {"data": {"name": "gates"}, "transform": [{"filter": "datum.panel === 'P33'"}], "mark": {"type": "rule", "color": "#000", "strokeWidth": 1.3}, "encoding": {"x": {"field": "x1", "type": "quantitative"}, "x2": {"field": "x2"}, "y": {"field": "y", "type": "quantitative"}}},
          {"data": {"name": "gates"}, "transform": [{"filter": "datum.panel === 'P33'"}], "mark": {"type": "tick", "orient": "vertical", "size": 8, "thickness": 1.3, "color": "#000", "opacity": 1}, "encoding": {"x": {"field": "x1", "type": "quantitative"}, "y": {"field": "y", "type": "quantitative"}}},
          {"data": {"name": "gates"}, "transform": [{"filter": "datum.panel === 'P33'"}], "mark": {"type": "tick", "orient": "vertical", "size": 8, "thickness": 1.3, "color": "#000", "opacity": 1}, "encoding": {"x": {"field": "x2", "type": "quantitative"}, "y": {"field": "y", "type": "quantitative"}}},
          {"data": {"name": "gates"}, "transform": [{"filter": "datum.panel === 'P33'"}], "mark": {"type": "text", "fontSize": 10.5, "baseline": "alphabetic", "align": "center"}, "encoding": {"x": {"field": "xm", "type": "quantitative"}, "y": {"field": "ty", "type": "quantitative"}, "text": {"field": "pct"}}},
          {"data": {"name": "gates"}, "transform": [{"filter": "datum.panel === 'P33'"}], "mark": {"type": "text", "fontSize": 10.5, "baseline": "alphabetic", "align": "center", "dy": -12.5, "text": "cells after ≥ 1 division(s)"}, "encoding": {"x": {"field": "xm", "type": "quantitative"}, "y": {"field": "ty", "type": "quantitative"}}}
         ]},
        {"width": 208.5, "height": 211,
         "layer": [
          {"data": {"name": "curves"}, "transform": [{"filter": "datum.panel === 'P34'"}], "mark": {"type": "line", "color": "#000", "strokeWidth": 1, "interpolate": "monotone"},
           "encoding": {"x": {"field": "cfse", "type": "quantitative", "scale": {"type": "log", "domain": [3, 300000], "nice": false}, "axis": {"title": null, "tickCount": 1000, "values": [4,5,6,7,8,9,10,20,30,40,50,60,70,80,90,100,200,300,400,500,600,700,800,900,1000,2000,3000,4000,5000,6000,7000,8000,9000,10000,20000,30000,40000,50000,60000,70000,80000,90000,100000,200000], "labelExpr": "indexof([10,100,1000,10000,100000], datum.value) >= 0 ? '10' + ['','¹','²','³','⁴','⁵'][round(log(datum.value) / LN10)] : ''", "tickSize": {"condition": {"test": "indexof([10,100,1000,10000,100000], datum.value) >= 0", "value": 5}, "value": 3}}},
                        "y": {"field": "count", "type": "quantitative", "scale": {"domain": [-12, 1030], "nice": false, "zero": false}, "axis": {"title": null, "tickCount": 1000, "values": [0,50,100,150,200,250,300,350,400,450,500,550,600,650,700,750,800,850,900,950,1000], "labelExpr": "datum.value % 200 === 0 ? (datum.value >= 1000 ? replace(format(datum.value / 1000, '.1f'), '.', ',') + 'K' : format(datum.value, 'd')) : ''", "tickSize": {"condition": {"test": "datum.value % 200 === 0", "value": 4}, "value": 2}}}}},
          {"data": {"name": "gates"}, "transform": [{"filter": "datum.panel === 'P34'"}], "mark": {"type": "rule", "color": "#000", "strokeWidth": 1.3}, "encoding": {"x": {"field": "x1", "type": "quantitative"}, "x2": {"field": "x2"}, "y": {"field": "y", "type": "quantitative"}}},
          {"data": {"name": "gates"}, "transform": [{"filter": "datum.panel === 'P34'"}], "mark": {"type": "tick", "orient": "vertical", "size": 8, "thickness": 1.3, "color": "#000", "opacity": 1}, "encoding": {"x": {"field": "x1", "type": "quantitative"}, "y": {"field": "y", "type": "quantitative"}}},
          {"data": {"name": "gates"}, "transform": [{"filter": "datum.panel === 'P34'"}], "mark": {"type": "tick", "orient": "vertical", "size": 8, "thickness": 1.3, "color": "#000", "opacity": 1}, "encoding": {"x": {"field": "x2", "type": "quantitative"}, "y": {"field": "y", "type": "quantitative"}}},
          {"data": {"name": "gates"}, "transform": [{"filter": "datum.panel === 'P34'"}], "mark": {"type": "text", "fontSize": 10.5, "baseline": "alphabetic", "align": "center"}, "encoding": {"x": {"field": "xm", "type": "quantitative"}, "y": {"field": "ty", "type": "quantitative"}, "text": {"field": "pct"}}},
          {"data": {"name": "gates"}, "transform": [{"filter": "datum.panel === 'P34'"}], "mark": {"type": "text", "fontSize": 10.5, "baseline": "alphabetic", "align": "center", "dy": -12.5, "text": "cells after ≥ 1 division(s)"}, "encoding": {"x": {"field": "xm", "type": "quantitative"}, "y": {"field": "ty", "type": "quantitative"}}},
          {"data": {"name": "arrows"}, "transform": [{"filter": "datum.arrow === 'black'"}], "mark": {"type": "rule", "color": "#000", "strokeWidth": 3}, "encoding": {"x": {"field": "x", "type": "quantitative"}, "y": {"field": "y", "type": "quantitative"}, "x2": {"field": "x2"}, "y2": {"field": "y2"}}},
          {"data": {"name": "arrows"}, "transform": [{"filter": "datum.arrow !== 'black'"}], "mark": {"type": "rule", "color": "#d11414", "strokeWidth": 3.2}, "encoding": {"x": {"field": "x", "type": "quantitative"}, "y": {"field": "y", "type": "quantitative"}, "x2": {"field": "x2"}, "y2": {"field": "y2"}}},
          {"data": {"name": "arrows"}, "transform": [{"filter": "datum.arrow === 'black'"}], "mark": {"type": "point", "shape": "triangle-up", "filled": true, "opacity": 1, "color": "#000", "size": 230, "angle": 220.6}, "encoding": {"x": {"field": "x2", "type": "quantitative"}, "y": {"field": "y2", "type": "quantitative"}}},
          {"data": {"name": "arrows"}, "transform": [{"filter": "datum.arrow === 'red1'"}], "mark": {"type": "point", "shape": "triangle-up", "filled": true, "opacity": 1, "color": "#d11414", "size": 230, "angle": 131.3}, "encoding": {"x": {"field": "x2", "type": "quantitative"}, "y": {"field": "y2", "type": "quantitative"}}},
          {"data": {"name": "arrows"}, "transform": [{"filter": "datum.arrow === 'red2'"}], "mark": {"type": "point", "shape": "triangle-up", "filled": true, "opacity": 1, "color": "#d11414", "size": 230, "angle": 156.8}, "encoding": {"x": {"field": "x2", "type": "quantitative"}, "y": {"field": "y2", "type": "quantitative"}}},
          {"data": {"name": "arrows"}, "transform": [{"filter": "datum.arrow === 'red3'"}], "mark": {"type": "point", "shape": "triangle-up", "filled": true, "opacity": 1, "color": "#d11414", "size": 230, "angle": 202.5}, "encoding": {"x": {"field": "x2", "type": "quantitative"}, "y": {"field": "y2", "type": "quantitative"}}}
         ]},
        {"width": 208.5, "height": 211,
         "layer": [
          {"data": {"name": "curves"}, "transform": [{"filter": "datum.panel === 'P41'"}], "mark": {"type": "line", "color": "#000", "strokeWidth": 1, "interpolate": "monotone"},
           "encoding": {"x": {"field": "cfse", "type": "quantitative", "scale": {"type": "log", "domain": [3, 300000], "nice": false}, "axis": {"title": null, "tickCount": 1000, "values": [4,5,6,7,8,9,10,20,30,40,50,60,70,80,90,100,200,300,400,500,600,700,800,900,1000,2000,3000,4000,5000,6000,7000,8000,9000,10000,20000,30000,40000,50000,60000,70000,80000,90000,100000,200000], "labelExpr": "indexof([10,100,1000,10000,100000], datum.value) >= 0 ? '10' + ['','¹','²','³','⁴','⁵'][round(log(datum.value) / LN10)] : ''", "tickSize": {"condition": {"test": "indexof([10,100,1000,10000,100000], datum.value) >= 0", "value": 5}, "value": 3}}},
                        "y": {"field": "count", "type": "quantitative", "scale": {"domain": [-22, 1862], "nice": false, "zero": false}, "axis": {"title": null, "tickCount": 1000, "values": [0,100,200,300,400,500,600,700,800,900,1000,1100,1200,1300,1400,1500,1600,1700,1800], "labelExpr": "datum.value % 500 === 0 ? (datum.value >= 1000 ? replace(format(datum.value / 1000, '.1f'), '.', ',') + 'K' : format(datum.value, 'd')) : ''", "tickSize": {"condition": {"test": "datum.value % 500 === 0", "value": 4}, "value": 2}}}}},
          {"data": {"name": "gates"}, "transform": [{"filter": "datum.panel === 'P41'"}], "mark": {"type": "rule", "color": "#000", "strokeWidth": 1.3}, "encoding": {"x": {"field": "x1", "type": "quantitative"}, "x2": {"field": "x2"}, "y": {"field": "y", "type": "quantitative"}}},
          {"data": {"name": "gates"}, "transform": [{"filter": "datum.panel === 'P41'"}], "mark": {"type": "tick", "orient": "vertical", "size": 8, "thickness": 1.3, "color": "#000", "opacity": 1}, "encoding": {"x": {"field": "x1", "type": "quantitative"}, "y": {"field": "y", "type": "quantitative"}}},
          {"data": {"name": "gates"}, "transform": [{"filter": "datum.panel === 'P41'"}], "mark": {"type": "tick", "orient": "vertical", "size": 8, "thickness": 1.3, "color": "#000", "opacity": 1}, "encoding": {"x": {"field": "x2", "type": "quantitative"}, "y": {"field": "y", "type": "quantitative"}}},
          {"data": {"name": "gates"}, "transform": [{"filter": "datum.panel === 'P41'"}], "mark": {"type": "text", "fontSize": 10.5, "baseline": "alphabetic", "align": "center"}, "encoding": {"x": {"field": "xm", "type": "quantitative"}, "y": {"field": "ty", "type": "quantitative"}, "text": {"field": "pct"}}},
          {"data": {"name": "gates"}, "transform": [{"filter": "datum.panel === 'P41'"}], "mark": {"type": "text", "fontSize": 10.5, "baseline": "alphabetic", "align": "center", "dy": -12.5, "text": "cells after ≥ 1 division(s)"}, "encoding": {"x": {"field": "xm", "type": "quantitative"}, "y": {"field": "ty", "type": "quantitative"}}}
         ]},
        {"width": 208.5, "height": 211,
         "layer": [
          {"data": {"name": "curves"}, "transform": [{"filter": "datum.panel === 'P42'"}], "mark": {"type": "line", "color": "#000", "strokeWidth": 1, "interpolate": "monotone"},
           "encoding": {"x": {"field": "cfse", "type": "quantitative", "scale": {"type": "log", "domain": [3, 300000], "nice": false}, "axis": {"title": null, "tickCount": 1000, "values": [4,5,6,7,8,9,10,20,30,40,50,60,70,80,90,100,200,300,400,500,600,700,800,900,1000,2000,3000,4000,5000,6000,7000,8000,9000,10000,20000,30000,40000,50000,60000,70000,80000,90000,100000,200000], "labelExpr": "indexof([10,100,1000,10000,100000], datum.value) >= 0 ? '10' + ['','¹','²','³','⁴','⁵'][round(log(datum.value) / LN10)] : ''", "tickSize": {"condition": {"test": "indexof([10,100,1000,10000,100000], datum.value) >= 0", "value": 5}, "value": 3}}},
                        "y": {"field": "count", "type": "quantitative", "scale": {"domain": [-24, 2030], "nice": false, "zero": false}, "axis": {"title": null, "tickCount": 1000, "values": [0,100,200,300,400,500,600,700,800,900,1000,1100,1200,1300,1400,1500,1600,1700,1800,1900,2000], "labelExpr": "datum.value % 500 === 0 ? (datum.value >= 1000 ? replace(format(datum.value / 1000, '.1f'), '.', ',') + 'K' : format(datum.value, 'd')) : ''", "tickSize": {"condition": {"test": "datum.value % 500 === 0", "value": 4}, "value": 2}}}}},
          {"data": {"name": "gates"}, "transform": [{"filter": "datum.panel === 'P42'"}], "mark": {"type": "rule", "color": "#000", "strokeWidth": 1.3}, "encoding": {"x": {"field": "x1", "type": "quantitative"}, "x2": {"field": "x2"}, "y": {"field": "y", "type": "quantitative"}}},
          {"data": {"name": "gates"}, "transform": [{"filter": "datum.panel === 'P42'"}], "mark": {"type": "tick", "orient": "vertical", "size": 8, "thickness": 1.3, "color": "#000", "opacity": 1}, "encoding": {"x": {"field": "x1", "type": "quantitative"}, "y": {"field": "y", "type": "quantitative"}}},
          {"data": {"name": "gates"}, "transform": [{"filter": "datum.panel === 'P42'"}], "mark": {"type": "tick", "orient": "vertical", "size": 8, "thickness": 1.3, "color": "#000", "opacity": 1}, "encoding": {"x": {"field": "x2", "type": "quantitative"}, "y": {"field": "y", "type": "quantitative"}}},
          {"data": {"name": "gates"}, "transform": [{"filter": "datum.panel === 'P42'"}], "mark": {"type": "text", "fontSize": 10.5, "baseline": "alphabetic", "align": "center"}, "encoding": {"x": {"field": "xm", "type": "quantitative"}, "y": {"field": "ty", "type": "quantitative"}, "text": {"field": "pct"}}},
          {"data": {"name": "gates"}, "transform": [{"filter": "datum.panel === 'P42'"}], "mark": {"type": "text", "fontSize": 10.5, "baseline": "alphabetic", "align": "center", "dy": -12.5, "text": "cells after ≥ 1 division(s)"}, "encoding": {"x": {"field": "xm", "type": "quantitative"}, "y": {"field": "ty", "type": "quantitative"}}}
         ]},
        {"width": 208.5, "height": 211,
         "layer": [
          {"data": {"name": "curves"}, "transform": [{"filter": "datum.panel === 'P43'"}], "mark": {"type": "line", "color": "#000", "strokeWidth": 1, "interpolate": "monotone"},
           "encoding": {"x": {"field": "cfse", "type": "quantitative", "scale": {"type": "log", "domain": [3, 300000], "nice": false}, "axis": {"title": null, "tickCount": 1000, "values": [4,5,6,7,8,9,10,20,30,40,50,60,70,80,90,100,200,300,400,500,600,700,800,900,1000,2000,3000,4000,5000,6000,7000,8000,9000,10000,20000,30000,40000,50000,60000,70000,80000,90000,100000,200000], "labelExpr": "indexof([10,100,1000,10000,100000], datum.value) >= 0 ? '10' + ['','¹','²','³','⁴','⁵'][round(log(datum.value) / LN10)] : ''", "tickSize": {"condition": {"test": "indexof([10,100,1000,10000,100000], datum.value) >= 0", "value": 5}, "value": 3}}},
                        "y": {"field": "count", "type": "quantitative", "scale": {"domain": [-20, 1655], "nice": false, "zero": false}, "axis": {"title": null, "tickCount": 1000, "values": [0,100,200,300,400,500,600,700,800,900,1000,1100,1200,1300,1400,1500,1600], "labelExpr": "datum.value % 500 === 0 ? (datum.value >= 1000 ? replace(format(datum.value / 1000, '.1f'), '.', ',') + 'K' : format(datum.value, 'd')) : ''", "tickSize": {"condition": {"test": "datum.value % 500 === 0", "value": 4}, "value": 2}}}}},
          {"data": {"name": "gates"}, "transform": [{"filter": "datum.panel === 'P43'"}], "mark": {"type": "rule", "color": "#000", "strokeWidth": 1.3}, "encoding": {"x": {"field": "x1", "type": "quantitative"}, "x2": {"field": "x2"}, "y": {"field": "y", "type": "quantitative"}}},
          {"data": {"name": "gates"}, "transform": [{"filter": "datum.panel === 'P43'"}], "mark": {"type": "tick", "orient": "vertical", "size": 8, "thickness": 1.3, "color": "#000", "opacity": 1}, "encoding": {"x": {"field": "x1", "type": "quantitative"}, "y": {"field": "y", "type": "quantitative"}}},
          {"data": {"name": "gates"}, "transform": [{"filter": "datum.panel === 'P43'"}], "mark": {"type": "tick", "orient": "vertical", "size": 8, "thickness": 1.3, "color": "#000", "opacity": 1}, "encoding": {"x": {"field": "x2", "type": "quantitative"}, "y": {"field": "y", "type": "quantitative"}}},
          {"data": {"name": "gates"}, "transform": [{"filter": "datum.panel === 'P43'"}], "mark": {"type": "text", "fontSize": 10.5, "baseline": "alphabetic", "align": "center"}, "encoding": {"x": {"field": "xm", "type": "quantitative"}, "y": {"field": "ty", "type": "quantitative"}, "text": {"field": "pct"}}},
          {"data": {"name": "gates"}, "transform": [{"filter": "datum.panel === 'P43'"}], "mark": {"type": "text", "fontSize": 10.5, "baseline": "alphabetic", "align": "center", "dy": -12.5, "text": "cells after ≥ 1 division(s)"}, "encoding": {"x": {"field": "xm", "type": "quantitative"}, "y": {"field": "ty", "type": "quantitative"}}}
         ]},
        {"width": 208.5, "height": 211,
         "layer": [
          {"data": {"name": "curves"}, "transform": [{"filter": "datum.panel === 'P44'"}], "mark": {"type": "line", "color": "#000", "strokeWidth": 1, "interpolate": "monotone"},
           "encoding": {"x": {"field": "cfse", "type": "quantitative", "scale": {"type": "log", "domain": [3, 300000], "nice": false}, "axis": {"title": null, "tickCount": 1000, "values": [4,5,6,7,8,9,10,20,30,40,50,60,70,80,90,100,200,300,400,500,600,700,800,900,1000,2000,3000,4000,5000,6000,7000,8000,9000,10000,20000,30000,40000,50000,60000,70000,80000,90000,100000,200000], "labelExpr": "indexof([10,100,1000,10000,100000], datum.value) >= 0 ? '10' + ['','¹','²','³','⁴','⁵'][round(log(datum.value) / LN10)] : ''", "tickSize": {"condition": {"test": "indexof([10,100,1000,10000,100000], datum.value) >= 0", "value": 5}, "value": 3}}},
                        "y": {"field": "count", "type": "quantitative", "scale": {"domain": [-22, 1829], "nice": false, "zero": false}, "axis": {"title": null, "tickCount": 1000, "values": [0,100,200,300,400,500,600,700,800,900,1000,1100,1200,1300,1400,1500,1600,1700,1800], "labelExpr": "datum.value % 500 === 0 ? (datum.value >= 1000 ? replace(format(datum.value / 1000, '.1f'), '.', ',') + 'K' : format(datum.value, 'd')) : ''", "tickSize": {"condition": {"test": "datum.value % 500 === 0", "value": 4}, "value": 2}}}}},
          {"data": {"name": "gates"}, "transform": [{"filter": "datum.panel === 'P44'"}], "mark": {"type": "rule", "color": "#000", "strokeWidth": 1.3}, "encoding": {"x": {"field": "x1", "type": "quantitative"}, "x2": {"field": "x2"}, "y": {"field": "y", "type": "quantitative"}}},
          {"data": {"name": "gates"}, "transform": [{"filter": "datum.panel === 'P44'"}], "mark": {"type": "tick", "orient": "vertical", "size": 8, "thickness": 1.3, "color": "#000", "opacity": 1}, "encoding": {"x": {"field": "x1", "type": "quantitative"}, "y": {"field": "y", "type": "quantitative"}}},
          {"data": {"name": "gates"}, "transform": [{"filter": "datum.panel === 'P44'"}], "mark": {"type": "tick", "orient": "vertical", "size": 8, "thickness": 1.3, "color": "#000", "opacity": 1}, "encoding": {"x": {"field": "x2", "type": "quantitative"}, "y": {"field": "y", "type": "quantitative"}}},
          {"data": {"name": "gates"}, "transform": [{"filter": "datum.panel === 'P44'"}], "mark": {"type": "text", "fontSize": 10.5, "baseline": "alphabetic", "align": "center"}, "encoding": {"x": {"field": "xm", "type": "quantitative"}, "y": {"field": "ty", "type": "quantitative"}, "text": {"field": "pct"}}},
          {"data": {"name": "gates"}, "transform": [{"filter": "datum.panel === 'P44'"}], "mark": {"type": "text", "fontSize": 10.5, "baseline": "alphabetic", "align": "center", "dy": -12.5, "text": "cells after ≥ 1 division(s)"}, "encoding": {"x": {"field": "xm", "type": "quantitative"}, "y": {"field": "ty", "type": "quantitative"}}}
         ]}
      ]
    }
  ]
},
{
  "width": 1032, "height": 48,
  "view": {"stroke": null},
  "layer": [
    {"data": {"values": [{"label": "CFSE"}]}, "mark": {"type": "rule", "strokeWidth": 3, "color": "#000"},
     "encoding": {"x": {"datum": 0, "type": "quantitative", "scale": {"domain": [-0.4926, 3.8896], "nice": false, "zero": false}, "axis": null}, "x2": {"datum": 3.86}, "y": {"datum": 0.583, "type": "quantitative", "scale": {"domain": [0, 1], "nice": false, "zero": false}, "axis": null}}},
    {"data": {"values": [{"label": "CFSE"}]}, "mark": {"type": "point", "shape": "triangle-right", "filled": true, "opacity": 1, "size": 230, "color": "#000"},
     "encoding": {"x": {"datum": 3.86, "type": "quantitative"}, "y": {"datum": 0.583, "type": "quantitative"}}},
    {"data": {"values": [{"label": "CFSE"}]}, "mark": {"type": "text", "fontSize": 19, "align": "center", "baseline": "middle"},
     "encoding": {"x": {"datum": 1.9575, "type": "quantitative"}, "y": {"datum": 0.13, "type": "quantitative"}, "text": {"field": "label"}}}
  ]
}
]
}
